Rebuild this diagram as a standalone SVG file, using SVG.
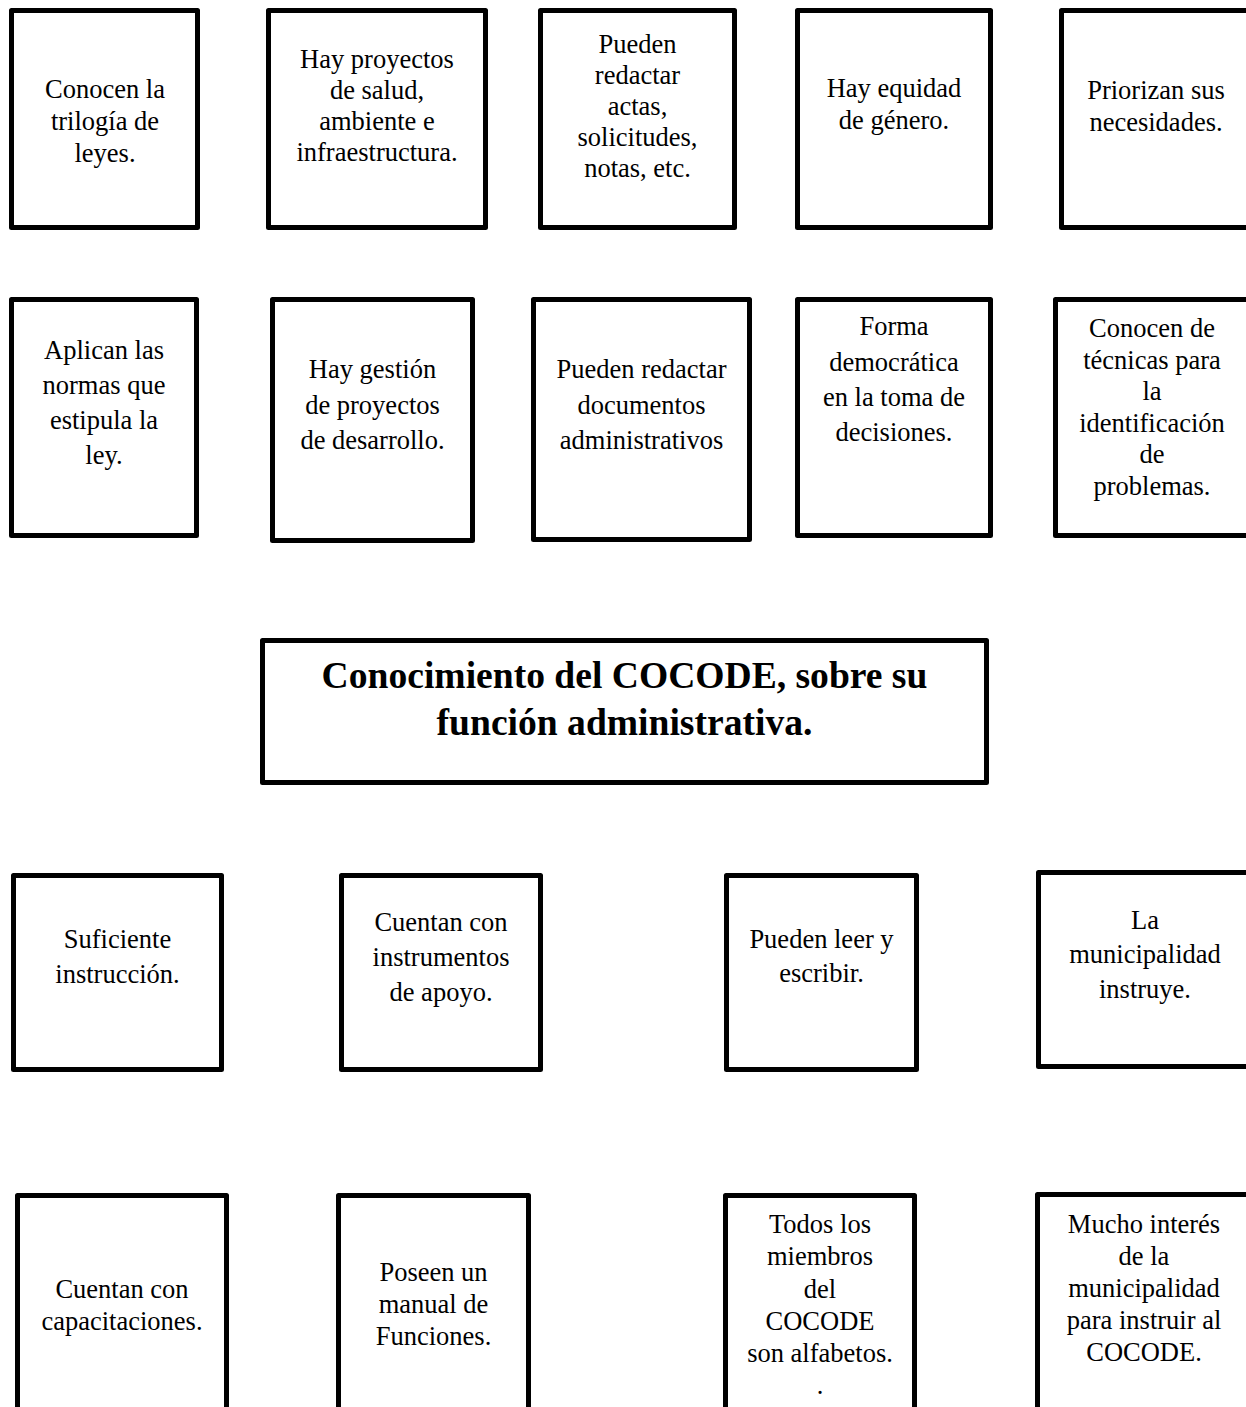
<svg xmlns="http://www.w3.org/2000/svg" width="1246" height="1407" viewBox="0 0 1246 1407">
<style>
.box{fill:#fff;stroke:#000;stroke-width:5;stroke-linejoin:round}
.t{font-family:"Liberation Serif","Times New Roman",serif;font-size:26.5px;text-anchor:middle;fill:#000}
.title{font-family:"Liberation Serif","Times New Roman",serif;font-size:37.6px;font-weight:bold;text-anchor:middle;fill:#000}
</style>
<rect width="1246" height="1407" fill="#fff"/>
<g id="connectors"/>
<g id="n1"><rect class="box" x="11.5" y="10.5" width="186" height="217"/>
<text class="t"><tspan x="105" y="98">Conocen la</tspan><tspan x="105" y="130">trilogía de</tspan><tspan x="105" y="162">leyes.</tspan></text></g>
<g id="n2"><rect class="box" x="268.5" y="10.5" width="217" height="217"/>
<text class="t"><tspan x="377" y="68">Hay proyectos</tspan><tspan x="377" y="99">de salud,</tspan><tspan x="377" y="130">ambiente e</tspan><tspan x="377" y="161">infraestructura.</tspan></text></g>
<g id="n3"><rect class="box" x="540.5" y="10.5" width="194" height="217"/>
<text class="t"><tspan x="637.5" y="53">Pueden</tspan><tspan x="637.5" y="84">redactar</tspan><tspan x="637.5" y="115">actas,</tspan><tspan x="637.5" y="146">solicitudes,</tspan><tspan x="637.5" y="177">notas, etc.</tspan></text></g>
<g id="n4"><rect class="box" x="797.5" y="10.5" width="193" height="217"/>
<text class="t"><tspan x="894" y="97">Hay equidad</tspan><tspan x="894" y="129">de género.</tspan></text></g>
<g id="n5"><rect class="box" x="1061.5" y="10.5" width="189" height="217"/>
<text class="t"><tspan x="1156" y="99">Priorizan sus</tspan><tspan x="1156" y="131">necesidades.</tspan></text></g>
<g id="n6"><rect class="box" x="11.5" y="299.5" width="185" height="236"/>
<text class="t"><tspan x="104" y="359">Aplican las</tspan><tspan x="104" y="394">normas que</tspan><tspan x="104" y="429">estipula la</tspan><tspan x="104" y="464">ley.</tspan></text></g>
<g id="n7"><rect class="box" x="272.5" y="299.5" width="200" height="241"/>
<text class="t"><tspan x="372.5" y="378">Hay gestión</tspan><tspan x="372.5" y="414">de proyectos</tspan><tspan x="372.5" y="449">de desarrollo.</tspan></text></g>
<g id="n8"><rect class="box" x="533.5" y="299.5" width="216" height="240"/>
<text class="t"><tspan x="641.5" y="378">Pueden redactar</tspan><tspan x="641.5" y="414">documentos</tspan><tspan x="641.5" y="449">administrativos</tspan></text></g>
<g id="n9"><rect class="box" x="797.5" y="299.5" width="193" height="236"/>
<text class="t"><tspan x="894" y="335">Forma</tspan><tspan x="894" y="371">democrática</tspan><tspan x="894" y="406">en la toma de</tspan><tspan x="894" y="441">decisiones.</tspan></text></g>
<g id="n10"><rect class="box" x="1055.5" y="299.5" width="200" height="236"/>
<text class="t"><tspan x="1152" y="337">Conocen de</tspan><tspan x="1152" y="369">técnicas para</tspan><tspan x="1152" y="400">la</tspan><tspan x="1152" y="432">identificación</tspan><tspan x="1152" y="463">de</tspan><tspan x="1152" y="495">problemas.</tspan></text></g>
<g id="n11"><rect class="box" x="262.5" y="640.5" width="724" height="142"/>
<text class="title"><tspan x="624.5" y="688">Conocimiento del COCODE, sobre su</tspan><tspan x="624.5" y="735">función administrativa.</tspan></text></g>
<g id="n12"><rect class="box" x="13.5" y="875.5" width="208" height="194"/>
<text class="t"><tspan x="117.5" y="948">Suficiente</tspan><tspan x="117.5" y="983">instrucción.</tspan></text></g>
<g id="n13"><rect class="box" x="341.5" y="875.5" width="199" height="194"/>
<text class="t"><tspan x="441" y="931">Cuentan con</tspan><tspan x="441" y="966">instrumentos</tspan><tspan x="441" y="1001">de apoyo.</tspan></text></g>
<g id="n14"><rect class="box" x="726.5" y="875.5" width="190" height="194"/>
<text class="t"><tspan x="821.5" y="948">Pueden leer y</tspan><tspan x="821.5" y="982">escribir.</tspan></text></g>
<g id="n15"><rect class="box" x="1038.5" y="872.5" width="215" height="194"/>
<text class="t"><tspan x="1145" y="929">La</tspan><tspan x="1145" y="963">municipalidad</tspan><tspan x="1145" y="998">instruye.</tspan></text></g>
<g id="n16"><rect class="box" x="17.5" y="1195.5" width="209" height="230"/>
<text class="t"><tspan x="122" y="1298">Cuentan con</tspan><tspan x="122" y="1330">capacitaciones.</tspan></text></g>
<g id="n17"><rect class="box" x="338.5" y="1195.5" width="190" height="230"/>
<text class="t"><tspan x="433.5" y="1281">Poseen un</tspan><tspan x="433.5" y="1313">manual de</tspan><tspan x="433.5" y="1345">Funciones.</tspan></text></g>
<g id="n18"><rect class="box" x="725.5" y="1195.5" width="189" height="230"/>
<text class="t"><tspan x="820" y="1233">Todos los</tspan><tspan x="820" y="1265">miembros</tspan><tspan x="820" y="1298">del</tspan><tspan x="820" y="1330">COCODE</tspan><tspan x="820" y="1362">son alfabetos.</tspan><tspan x="820" y="1394">.</tspan></text></g>
<g id="n19"><rect class="box" x="1037.5" y="1194.5" width="215" height="230"/>
<text class="t"><tspan x="1144" y="1233">Mucho interés</tspan><tspan x="1144" y="1265">de la</tspan><tspan x="1144" y="1297">municipalidad</tspan><tspan x="1144" y="1329">para instruir al</tspan><tspan x="1144" y="1361">COCODE.</tspan></text></g>
</svg>
